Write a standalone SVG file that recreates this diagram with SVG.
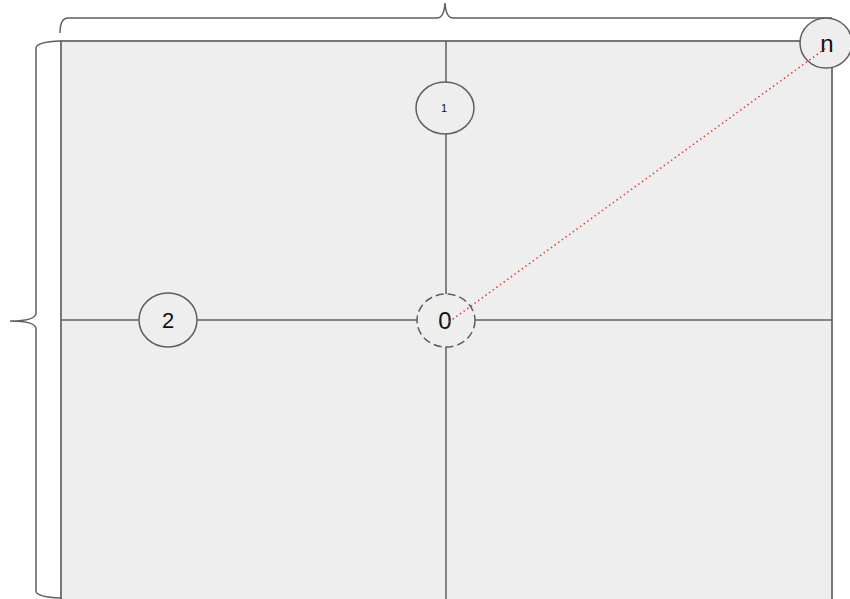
<svg xmlns="http://www.w3.org/2000/svg" width="850" height="599" viewBox="0 0 850 599">
<style>
.ln{stroke:#5f5f5f;stroke-width:1.5;fill:none}
.nd{fill:#eeeeee;stroke:#5f5f5f;stroke-width:1.5}
.tx{font-family:"Liberation Sans",Arial,sans-serif;fill:#111;text-anchor:middle}
</style>
<rect width="850" height="599" fill="#ffffff"/>
<g id="area">
<rect x="61" y="41" width="771" height="560" fill="#eeeeee" stroke="#777777" stroke-width="2"/>
</g>
<g id="braces">
<path class="ln" d="M60,33 Q60,18 68,18 L437,18 Q444,18 445,3 Q446,18 453,18 L832,18"/>
<path class="ln" d="M61,41 Q36,42 36,48 L36,313 Q36,321 10,321 Q36,321 36,329 L36,591 Q36,597 61,598"/>
</g>
<g id="connectors">
<line class="ln" x1="446" y1="41" x2="446" y2="599"/>
<line class="ln" x1="61" y1="320" x2="832" y2="320"/>
</g>
<g id="node-1">
<ellipse class="nd" cx="445" cy="108" rx="29" ry="26"/>
<text class="tx" x="444" y="112" font-size="11">1</text>
</g>
<g id="node-2">
<ellipse class="nd" cx="168" cy="320" rx="29" ry="27"/>
<text class="tx" x="168" y="328" font-size="22">2</text>
</g>
<g id="node-0">
<ellipse class="nd" cx="446" cy="320.5" rx="29" ry="26.5" stroke-dasharray="8,4"/>
<text class="tx" x="445" y="329" font-size="24">0</text>
</g>
<g id="node-n">
<ellipse class="nd" cx="826" cy="43" rx="26" ry="25"/>
<text class="tx" x="827" y="52" font-size="24">n</text>
</g>
<g id="link">
<line x1="449" y1="322" x2="826" y2="48" stroke="#e53935" stroke-width="1.5" stroke-dasharray="1.5,3"/>
</g>
</svg>
